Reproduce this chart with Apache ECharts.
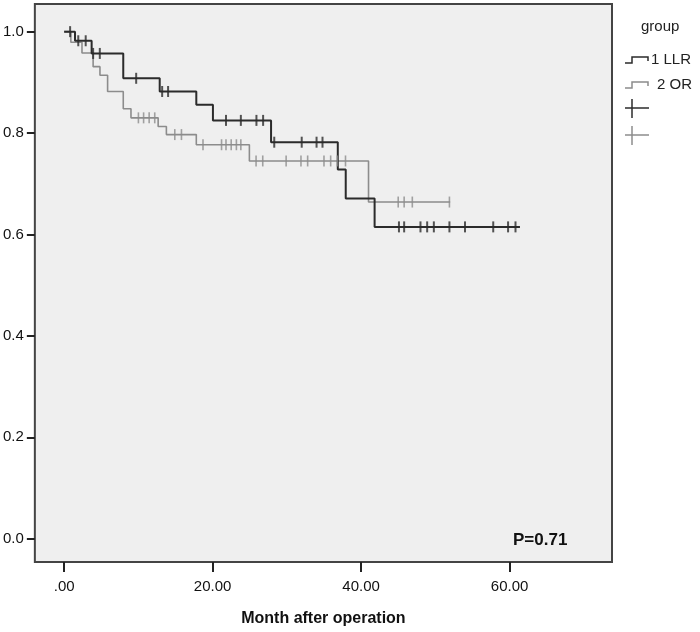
<!DOCTYPE html>
<html>
<head>
<meta charset="utf-8">
<script src="https://cdn.jsdelivr.net/npm/echarts@6/dist/echarts.min.js"></script>
<style>
  html, body { margin: 0; padding: 0; background: #ffffff; }
  #chart { width: 700px; height: 632px; }
</style>
</head>
<body>
<div id="chart"></div>
<script>
// ---- data ----
const groupNames = ['1 LLR', '2 OR'];

// Kaplan-Meier step points: time (months) and survival after each step
const llrTimes = [0, 1.46, 3.7, 7.96, 12.87, 17.8, 20.04, 27.87, 36.86, 37.93, 41.82, 61.4];
const llrSurv  = [1.0, 0.982, 0.957, 0.908, 0.882, 0.856, 0.825, 0.782, 0.728, 0.671, 0.615, 0.615];
const llrCensorTimes = [0.8, 1.9, 2.9, 3.9, 4.8, 9.7, 13.2, 14.0, 21.8, 23.8, 25.9, 26.8, 28.3,
  32.0, 34.0, 34.8, 45.1, 45.8, 48.0, 48.9, 49.8, 51.9, 54.0, 57.8, 59.8, 60.8];

const orTimes = [0, 0.9, 2.4, 3.9, 4.82, 5.85, 7.96, 9.0, 12.66, 13.77, 17.8, 24.95, 41.0, 52.0];
const orSurv  = [1.0, 0.979, 0.958, 0.931, 0.914, 0.882, 0.848, 0.830, 0.813, 0.797, 0.777, 0.745, 0.664, 0.664];
const orCensorTimes = [10.0, 10.7, 11.45, 12.2, 14.9, 15.8, 18.7, 21.2, 21.8, 22.5, 23.2, 23.8,
  25.85, 26.75, 29.9, 31.9, 32.8, 35.0, 35.9, 36.8, 37.9, 45.0, 45.8, 46.9, 51.9];

const xTickValues = [0, 20, 40, 60];
const xTickLabels = ['.00', '20.00', '40.00', '60.00'];
const yTickValues = [0, 0.2, 0.4, 0.6, 0.8, 1.0];
const yTickLabels = ['0.0', '0.2', '0.4', '0.6', '0.8', '1.0'];
const pValueText = 'P=0.71';
const xTitle = 'Month after operation';
const legendTitle = 'group';

// ---- helpers ----
function zip(ts, ss) { return ts.map((t, i) => [t, ss[i]]); }
function survAt(ts, ss, t) {
  let s = ss[0];
  for (let i = 0; i < ts.length; i++) { if (ts[i] <= t) s = ss[i]; }
  return s;
}
function censorPoints(ct, ts, ss) { return ct.map(t => [t, survAt(ts, ss, t)]); }

const BLACK = '#2b2b2b';
const GRAY = '#8c8c8c';
const FONT = '"Liberation Sans", Arial, sans-serif';

const chart = echarts.init(document.getElementById('chart'), null, { renderer: 'canvas' });

const option = {
  animation: false,
  backgroundColor: '#ffffff',
  grid: {
    left: 33, top: 4, right: 88, bottom: 69,
    show: true, backgroundColor: '#efefef',
    borderColor: '#444444', borderWidth: 2
  },
  xAxis: {
    type: 'value', min: -3.95, max: 73.8,
    axisLine: { show: false, onZero: false },
    splitLine: { show: false },
    axisTick: { show: true, inside: false, length: 10, customValues: xTickValues, lineStyle: { color: '#222', width: 2 } },
    axisLabel: {
      customValues: xTickValues, margin: 17,
      formatter: v => xTickLabels[xTickValues.indexOf(v)],
      color: '#111', fontSize: 15, fontFamily: FONT
    },
    name: xTitle, nameLocation: 'middle', nameGap: 49,
    nameTextStyle: { color: '#111', fontSize: 16, fontWeight: 'bold', fontFamily: FONT }
  },
  yAxis: {
    type: 'value', min: -0.0458, max: 1.0545,
    axisLine: { show: false, onZero: false },
    splitLine: { show: false },
    axisTick: { show: true, inside: false, length: 8, customValues: yTickValues, lineStyle: { color: '#222', width: 2 } },
    axisLabel: {
      customValues: yTickValues, margin: 11,
      formatter: v => yTickLabels[yTickValues.findIndex(x => Math.abs(x - v) < 1e-6)],
      color: '#111', fontSize: 15, fontFamily: FONT
    }
  },
  series: [
    {
      name: groupNames[1], type: 'line', step: 'end', data: zip(orTimes, orSurv),
      symbol: 'none', lineStyle: { color: GRAY, width: 1.6 }, z: 2
    },
    {
      name: groupNames[0], type: 'line', step: 'end', data: zip(llrTimes, llrSurv),
      symbol: 'none', lineStyle: { color: BLACK, width: 2 }, z: 3
    },
    {
      name: groupNames[1] + ' censored', type: 'scatter',
      data: censorPoints(orCensorTimes, orTimes, orSurv),
      symbol: 'rect', symbolSize: [1.6, 11], itemStyle: { color: GRAY }, z: 4
    },
    {
      name: groupNames[0] + ' censored', type: 'scatter',
      data: censorPoints(llrCensorTimes, llrTimes, llrSurv),
      symbol: 'rect', symbolSize: [2, 11], itemStyle: { color: BLACK }, z: 5
    }
  ],
  graphic: [
    { type: 'text', left: 641, top: 19, style: { text: legendTitle, fill: '#222', font: '15px ' + FONT } },
    { type: 'polyline', shape: { points: [[625, 63], [632, 63], [632, 57], [648, 57], [648, 61]] },
      style: { stroke: BLACK, lineWidth: 1.5, fill: null } },
    { type: 'text', left: 651, top: 52, style: { text: groupNames[0], fill: '#222', font: '15px ' + FONT } },
    { type: 'polyline', shape: { points: [[625, 88], [632, 88], [632, 82], [648, 82], [648, 86]] },
      style: { stroke: GRAY, lineWidth: 1.5, fill: null } },
    { type: 'text', left: 657, top: 77, style: { text: groupNames[1], fill: '#222', font: '15px ' + FONT } },
    { type: 'line', shape: { x1: 625, y1: 108, x2: 649, y2: 108 }, style: { stroke: BLACK, lineWidth: 1.5 } },
    { type: 'line', shape: { x1: 632, y1: 99, x2: 632, y2: 118 }, style: { stroke: BLACK, lineWidth: 1.5 } },
    { type: 'line', shape: { x1: 625, y1: 135, x2: 649, y2: 135 }, style: { stroke: GRAY, lineWidth: 1.5 } },
    { type: 'line', shape: { x1: 632, y1: 126, x2: 632, y2: 145 }, style: { stroke: GRAY, lineWidth: 1.5 } },
    { type: 'text', left: 513, top: 532, style: { text: pValueText, fill: '#111', font: 'bold 17px ' + FONT } }
  ]
};
chart.setOption(option);
</script>
</body>
</html>
